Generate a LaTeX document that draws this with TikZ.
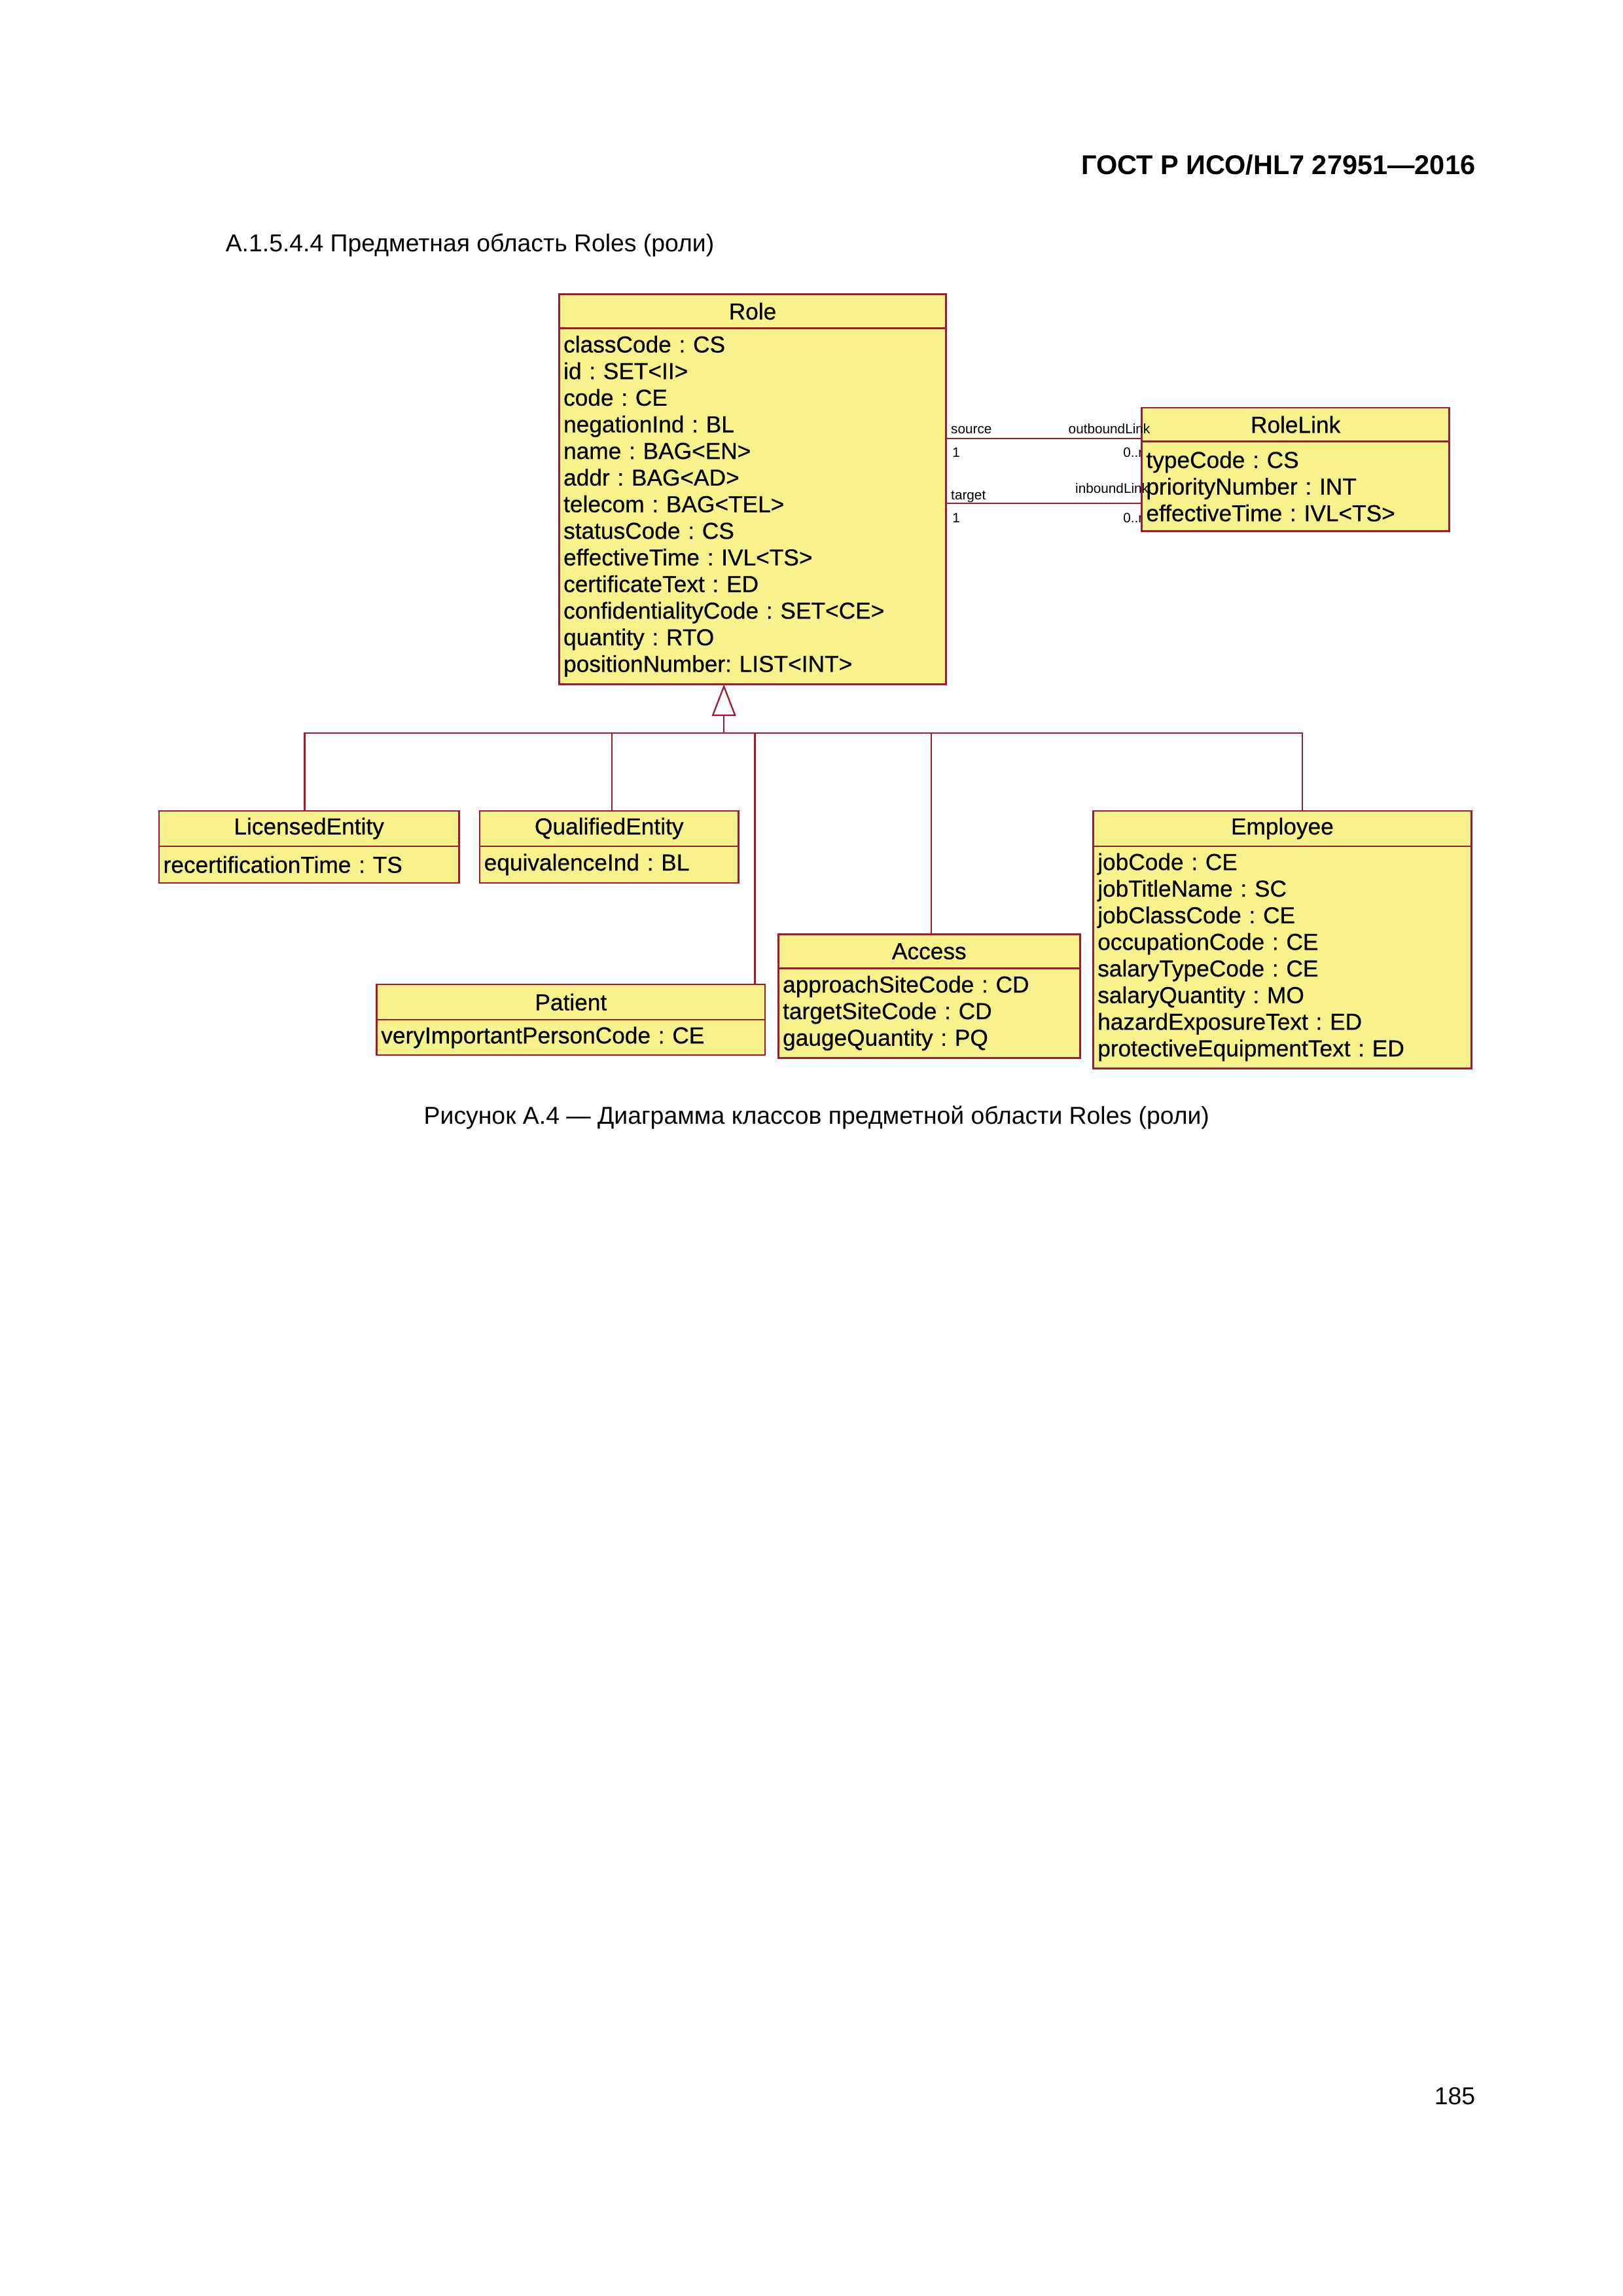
\documentclass[tikz,border=0pt]{standalone}
\usepackage{fontspec}
\setmainfont{Liberation Sans}
\newfontfamily\umlfamily{Liberation Sans}[FakeBold=0.5]
\usetikzlibrary{positioning,arrows.meta}
\frenchspacing

\definecolor{umlred}{RGB}{158,27,50}
\definecolor{umlyellow}{RGB}{247,242,140}
\newcommand\upx{0.19039mm}
\newcommand\umlfont{\umlfamily\fontsize{8.5}{9.8}\selectfont}
\newcommand\assocfont{\fontsize{5}{6}\selectfont}

\pgfdeclarelayer{background}
\pgfsetlayers{background,main}

\tikzset{
  umlhead/.style={draw=umlred, fill=umlyellow, line width=0.6pt, inner sep=0pt, outer sep=0pt, font=\umlfont, anchor=north west},
  umlattr/.style={draw=umlred, fill=umlyellow, line width=0.6pt, inner xsep=3*\upx, inner ysep=0pt, outer sep=0pt, font=\umlfont, align=left, anchor=north},
  umlline/.style={draw=umlred, line width=0.55pt},
  endlabel/.style={font=\assocfont, inner sep=0pt},
  pagetext/.style={inner sep=0pt, font=\fontsize{9}{11}\selectfont}
}

\begin{document}
\begin{tikzpicture}[x=\upx, y=-\upx]
\useasboundingbox (0,0) rectangle (1103,1560.3);
\begin{pgfonlayer}{background}
\fill[white] (0,0) rectangle (1103,1560.3);
\end{pgfonlayer}

% page texts
\node[pagetext, anchor=base east, font=\fontsize{10}{12}\selectfont\bfseries] (header) at (1003,118.6) {ГОСТ Р ИСО/HL7 27951—2016};
\node[pagetext, anchor=base west] (section) at (153,171) {А.1.5.4.4 Предметная область Roles (роли)};
\node[pagetext, anchor=base] (caption) at (555,764) {Рисунок А.4 — Диаграмма классов предметной области Roles (роли)};
\node[pagetext, anchor=base east] (pagenum) at (1003,1430) {185};

% Role
\node[umlhead, minimum width=263*\upx, minimum height=23*\upx] (rolehead) at (380,200) {Role};
\node[umlattr, text width=257*\upx, minimum height=242*\upx] (roleattr) at (rolehead.south) {classCode : CS\\id : SET<II>\\code : CE\\negationInd : BL\\name : BAG<EN>\\addr : BAG<AD>\\telecom : BAG<TEL>\\statusCode : CS\\effectiveTime : IVL<TS>\\certificateText : ED\\confidentialityCode : SET<CE>\\quantity : RTO\\positionNumber: LIST<INT>};

% RoleLink
\node[umlhead, minimum width=209*\upx, minimum height=23*\upx] (rolelinkhead) at (776,277) {RoleLink};
\node[umlattr, text width=203*\upx, minimum height=61*\upx] (rolelinkattr) at (rolelinkhead.south) {typeCode : CS\\priorityNumber : INT\\effectiveTime : IVL<TS>};

% associations
\coordinate (src) at ([yshift=-75*\upx]roleattr.north east);
\coordinate (tgt) at ([yshift=-119*\upx]roleattr.north east);
\draw[umlline] (src) -- (src -| rolelinkhead.west);
\draw[umlline] (tgt) -- (tgt -| rolelinkattr.west);
\node[endlabel, anchor=base west] (srcrole) at (646,294.5) {source};
\node[endlabel, anchor=base west] (srcmult) at (647,310.5) {1};
\node[endlabel, anchor=base west] (tgtrole) at (646,339.5) {target};
\node[endlabel, anchor=base west] (tgtmult) at (647,355) {1};
\begin{pgfonlayer}{background}
\node[endlabel, anchor=base west] (outmult) at (763,310.5) {0..n};
\node[endlabel, anchor=base west] (inmult) at (763,355) {0..n};
\end{pgfonlayer}
\node[endlabel, anchor=base east] (outrole) at (782,294.5) {outboundLink};
\node[endlabel, anchor=base east] (inrole) at (781,335) {inboundLink};

% specialisations
\node[umlhead, minimum width=204*\upx, minimum height=24*\upx] (licensedhead) at (108,551) {LicensedEntity};
\node[umlattr, text width=198*\upx, minimum height=25*\upx] (licensedattr) at (licensedhead.south) {recertificationTime : TS};

\node[umlhead, minimum width=176*\upx, minimum height=24*\upx] (qualifiedhead) at (326,551) {QualifiedEntity};
\node[umlattr, text width=170*\upx, minimum height=25*\upx] (qualifiedattr) at (qualifiedhead.south) {equivalenceInd : BL};

\node[umlhead, minimum width=264*\upx, minimum height=24*\upx] (patienthead) at (256,669) {Patient};
\node[umlattr, text width=258*\upx, minimum height=24*\upx] (patientattr) at (patienthead.south) {veryImportantPersonCode : CE};

\node[umlhead, minimum width=205*\upx, minimum height=23*\upx] (accesshead) at (529,635) {Access};
\node[umlattr, text width=199*\upx, minimum height=61*\upx] (accessattr) at (accesshead.south) {approachSiteCode : CD\\targetSiteCode : CD\\gaugeQuantity : PQ};

\node[umlhead, minimum width=257*\upx, minimum height=24*\upx] (employeehead) at (743,551) {Employee};
\node[umlattr, text width=251*\upx, minimum height=151*\upx] (employeeattr) at (employeehead.south) {jobCode : CE\\jobTitleName : SC\\jobClassCode : CE\\occupationCode : CE\\salaryTypeCode : CE\\salaryQuantity : MO\\hazardExposureText : ED\\protectiveEquipmentText : ED};

% generalisation
\coordinate (bus) at (492,498);
\draw[umlline, -{Triangle[open, length=4.1mm, width=3.1mm]}] (bus) -- (bus |- roleattr.south);
\draw[umlline] (licensedhead.north) ++(-3,0) |- (bus);
\draw[umlline] (qualifiedhead.north) ++(2,0) |- (bus);
\draw[umlline] (patienthead.north east) ++(-7,0) |- (bus);
\draw[umlline] (accesshead.north) ++(1.5,0) |- (bus);
\draw[umlline] (employeehead.north) ++(13.5,0) |- (bus);
\end{tikzpicture}
\end{document}
